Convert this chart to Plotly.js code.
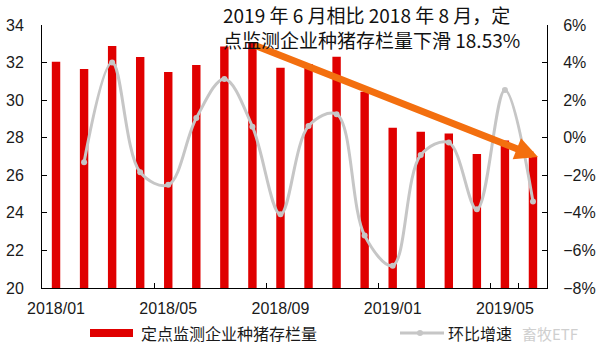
<!DOCTYPE html>
<html>
<head>
<meta charset="utf-8">
<script src="https://cdn.plot.ly/plotly-3.0.1.min.js"></script>
<style>html,body{margin:0;padding:0;background:#fff;}#chart{width:603px;height:354px;}</style>
</head>
<body>
<div id="chart"></div>
<script>
const months = ["2018/01","2018/02","2018/03","2018/04","2018/05","2018/06","2018/07","2018/08","2018/09","2018/10","2018/11","2018/12","2019/01","2019/02","2019/03","2019/04","2019/05","2019/06"];
const tickLabels = ["2018/01","2018/05","2018/09","2019/01","2019/05"];
const stock = [32.05,31.66,32.88,32.3,31.5,31.87,32.85,33.1,31.73,31.92,32.31,30.45,28.53,28.32,28.23,27.13,27.85,26.97];
const momPct = [null,-1.3,4.0,-1.84,-2.51,1.05,3.13,0.59,-4.08,0.62,1.25,-5.21,-6.81,-0.92,-0.26,-3.81,2.54,-3.4];
const barName = "定点监测企业种猪存栏量";
const lineName = "环比增速";
const noteLine1 = "2019 年 6 月相比 2018 年 8 月，定";
const noteLine2 = "点监测企业种猪存栏量下滑 18.53%";

const FONT = "Liberation Sans, Arial, Noto Sans CJK SC, sans-serif";
const CJK = "Noto Sans CJK SC, Liberation Sans, sans-serif";

const traces = [
  {type:"bar", x:months, y:stock, name:barName, marker:{color:"#e00000"}, width:0.3, yaxis:"y", showlegend:false, hoverinfo:"skip"},
  {type:"scatter", mode:"lines+markers", x:months, y:momPct, name:lineName, yaxis:"y2",
   line:{color:"#c6c6c6", width:3, shape:"spline", smoothing:1}, marker:{color:"#c6c6c6", size:6}, showlegend:false, connectgaps:false}
];

const layout = {
  width:603, height:354,
  margin:{l:42, r:56, t:25, b:66},
  paper_bgcolor:"#fff", plot_bgcolor:"#fff",
  font:{family:FONT, size:16, color:"#1a1a1a"},
  bargap:0.7,
  xaxis:{type:"category", categoryorder:"array", categoryarray:months, tickvals:tickLabels, ticktext:tickLabels,
    tickson:"boundaries", ticks:"inside", ticklen:5, tickcolor:"#000", tickangle:0,
    showline:true, linecolor:"#000", linewidth:1, showgrid:false, zeroline:false,
    tickfont:{size:16, family:FONT}, range:[-0.5,17.5], ticklabelstandoff:6},
  yaxis:{range:[20,34], dtick:2, ticks:"inside", ticklen:5, tickcolor:"#000", showline:true, linecolor:"#000",
    showgrid:false, zeroline:false, tickfont:{size:16, family:FONT}, ticklabelstandoff:14},
  yaxis2:{overlaying:"y", side:"right", range:[-8,6], dtick:2, ticksuffix:"%", ticks:"inside", ticklen:5, tickcolor:"#000",
    showline:true, linecolor:"#000", showgrid:false, zeroline:false, tickfont:{size:16, family:FONT}, ticklabelstandoff:12},
  shapes:[
    {type:"rect", xref:"paper", yref:"paper", x0:(90-42)/505, x1:(133-42)/505, y0:(288-337)/263, y1:(288-329)/263, fillcolor:"#e00000", line:{width:0}},
    {type:"line", xref:"paper", yref:"paper", x0:(400-42)/505, x1:(444-42)/505, y0:(288-333)/263, y1:(288-333)/263, line:{color:"#c6c6c6", width:3}},
    {type:"circle", xref:"paper", yref:"paper", x0:(417-42)/505, x1:(423-42)/505, y0:(288-336)/263, y1:(288-330)/263, fillcolor:"#c6c6c6", line:{width:0}}
  ],
  annotations:[
    {x:17.18, y:26.97, xref:"x", yref:"y", ax:7.04, ay:32.94, axref:"x", ayref:"y", showarrow:true, text:"",
     arrowcolor:"#f36f0f", arrowwidth:7, arrowhead:2, arrowsize:0.65, standoff:0, startstandoff:0},
    {xref:"paper", yref:"paper", x:(221-42)/505, y:(288-15)/263, xanchor:"left", yanchor:"middle", align:"left", showarrow:false,
     text:noteLine1, font:{family:CJK, size:19, color:"#111"}},
    {xref:"paper", yref:"paper", x:(221-42)/505, y:(288-39)/263, xanchor:"left", yanchor:"middle", align:"left", showarrow:false,
     text:noteLine2, font:{family:CJK, size:19, color:"#111"}},
    {xref:"paper", yref:"paper", x:(139-42)/505, y:(288-333)/263, xanchor:"left", yanchor:"middle", showarrow:false,
     text:barName, font:{family:CJK, size:16, color:"#1a1a1a"}},
    {xref:"paper", yref:"paper", x:(446-42)/505, y:(288-333)/263, xanchor:"left", yanchor:"middle", showarrow:false,
     text:lineName, font:{family:CJK, size:16, color:"#1a1a1a"}},
    {xref:"paper", yref:"paper", x:(520-42)/505, y:(288-333)/263, xanchor:"left", yanchor:"middle", showarrow:false,
     text:"畜牧ETF", font:{family:CJK, size:15, color:"#cfcfcf"}}
  ]
};

Plotly.newPlot("chart", traces, layout, {displayModeBar:false, staticPlot:true});
</script>
</body>
</html>
